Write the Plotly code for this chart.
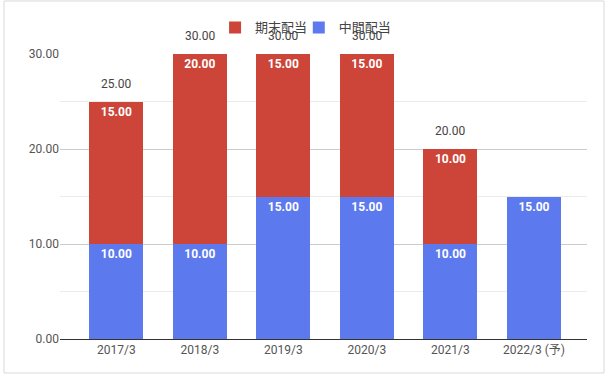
import plotly.graph_objects as go

categories = ["2017/3", "2018/3", "2019/3", "2020/3", "2021/3", "2022/3 (予)"]
interim = [10, 10, 15, 15, 10, 15]          # 中間配当
year_end = [15, 20, 15, 15, 10, None]       # 期末配当
totals = [25, 30, 30, 30, 20, None]         # 合計 (label above bar)

RED = "#cc4538"
BLUE = "#5d79ee"
FONT = "Roboto, Noto Sans CJK JP, sans-serif"

fig = go.Figure()
fig.add_trace(go.Bar(
    name="中間配当", x=categories, y=interim, marker_color=BLUE, marker_line_width=0,
    text=[f"{v:.2f}" for v in interim], textposition="inside",
    insidetextanchor="end", textangle=0,
    textfont=dict(color="white", size=12, family=FONT, weight="bold"),
    width=0.647, legend="legend2",
))
fig.add_trace(go.Bar(
    name="期末配当", x=categories, y=year_end, marker_color=RED, marker_line_width=0,
    text=[f"{v:.2f}" if v is not None else "" for v in year_end], textposition="inside",
    insidetextanchor="end", textangle=0,
    textfont=dict(color="white", size=12, family=FONT, weight="bold"),
    width=0.647, legend="legend",
))

for c, t in zip(categories, totals):
    if t is None:
        continue
    fig.add_annotation(x=c, y=t, text=f"{t:.2f}", showarrow=False,
                       yshift=18, font=dict(color="#444444", size=12, family=FONT))

fig.add_shape(type="rect", xref="paper", yref="paper",
              x0=-0.1063, x1=1.0323, y0=-0.1193, y1=1.1860,
              line=dict(color="#d9d9d9", width=1), fillcolor="rgba(0,0,0,0)", layer="below")

legend_common = dict(orientation="h", xref="container", yref="container",
                     xanchor="left", y=0.928, yanchor="middle", itemwidth=30,
                     bgcolor="rgba(0,0,0,0)",
                     font=dict(size=13, color="#444444", family=FONT))

fig.update_layout(
    width=611, height=381,
    margin=dict(l=60, r=24, t=54, b=42, autoexpand=False),
    barmode="stack",
    plot_bgcolor="white", paper_bgcolor="white",
    font=dict(family=FONT, size=12, color="#555555"),
    showlegend=True,
    legend=dict(x=0.352, **legend_common),
    legend2=dict(x=0.489, **legend_common),
    xaxis=dict(range=[-0.675, 5.635], showline=True, linecolor="#333333", linewidth=1,
               showgrid=False, ticks="", tickfont=dict(size=12, color="#555555")),
    yaxis=dict(range=[0, 30], tickvals=[0, 10, 20, 30], tickformat=".2f",
               showgrid=True, gridcolor="#cccccc", gridwidth=1, zeroline=False,
               ticks="", tickfont=dict(size=12, color="#555555"),
               minor=dict(tickvals=[5, 15, 25], showgrid=True, gridcolor="#ebebeb")),
)

fig.write_html("out.html", config={"displayModeBar": False},
               post_script="document.body.style.margin='0';")
